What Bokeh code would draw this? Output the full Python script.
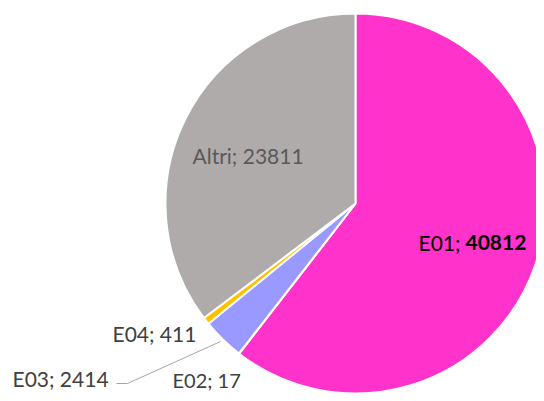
import math
from bokeh.plotting import figure
from bokeh.models import Range1d, ColumnDataSource
from bokeh.core.properties import value
from bokeh.embed import file_html
from bokeh.resources import INLINE

categories = ["E01", "E02", "E03", "E04", "Altri"]
values = [40812, 17, 2414, 411, 23811]
colors = ["#FF33CC", "#9999FF", "#9999FF", "#FFC000", "#AFABAB"]

total = float(sum(values))
starts, ends = [], []
cum = 0.0
for v in values:
    starts.append(math.pi / 2 - 2 * math.pi * cum / total)
    cum += v
    ends.append(math.pi / 2 - 2 * math.pi * cum / total)

W, H = 536, 393
p = figure(width=W, height=H, output_backend="svg", toolbar_location=None,
           x_range=Range1d(0, W), y_range=Range1d(401 - H, 401),
           min_border=0, outline_line_color=None)
p.axis.visible = False
p.grid.visible = False

cx, cy, r = 355, 401 - 203, 190
src = ColumnDataSource(dict(start=starts, end=ends, color=colors))
p.wedge(x=cx, y=cy, radius=r, start_angle="start", end_angle="end",
        direction="clock", fill_color="color", line_color="white",
        line_width=2, source=src)

font = value("Lato")
fs = "21px"
# leader line for E03
p.line(x=[116, 127, 220], y=[401 - 383, 401 - 383, 401 - 341],
       line_color="#A6A6A6", line_width=1)

def lab(x, y, t, color, style="normal", size=fs):
    p.text(x=[x], y=[401 - y], text=[t], text_font=font, text_font_size=size,
           text_color=color, text_align="left", text_baseline="middle",
           text_font_style=style)

lab(418, 242, f"{categories[0]};", "#000000")
lab(465, 242, f"{values[0]}", "#000000", "bold")
lab(192, 155, f"{categories[4]}; {values[4]}", "#595959")
lab(112, 333, f"{categories[3]}; {values[3]}", "#404040")
lab(12, 378, f"{categories[2]}; {values[2]}", "#404040")
lab(172, 379, f"{categories[1]}; {values[1]}", "#404040", size="20px")

open("out.html", "w").write(file_html(p, INLINE))
